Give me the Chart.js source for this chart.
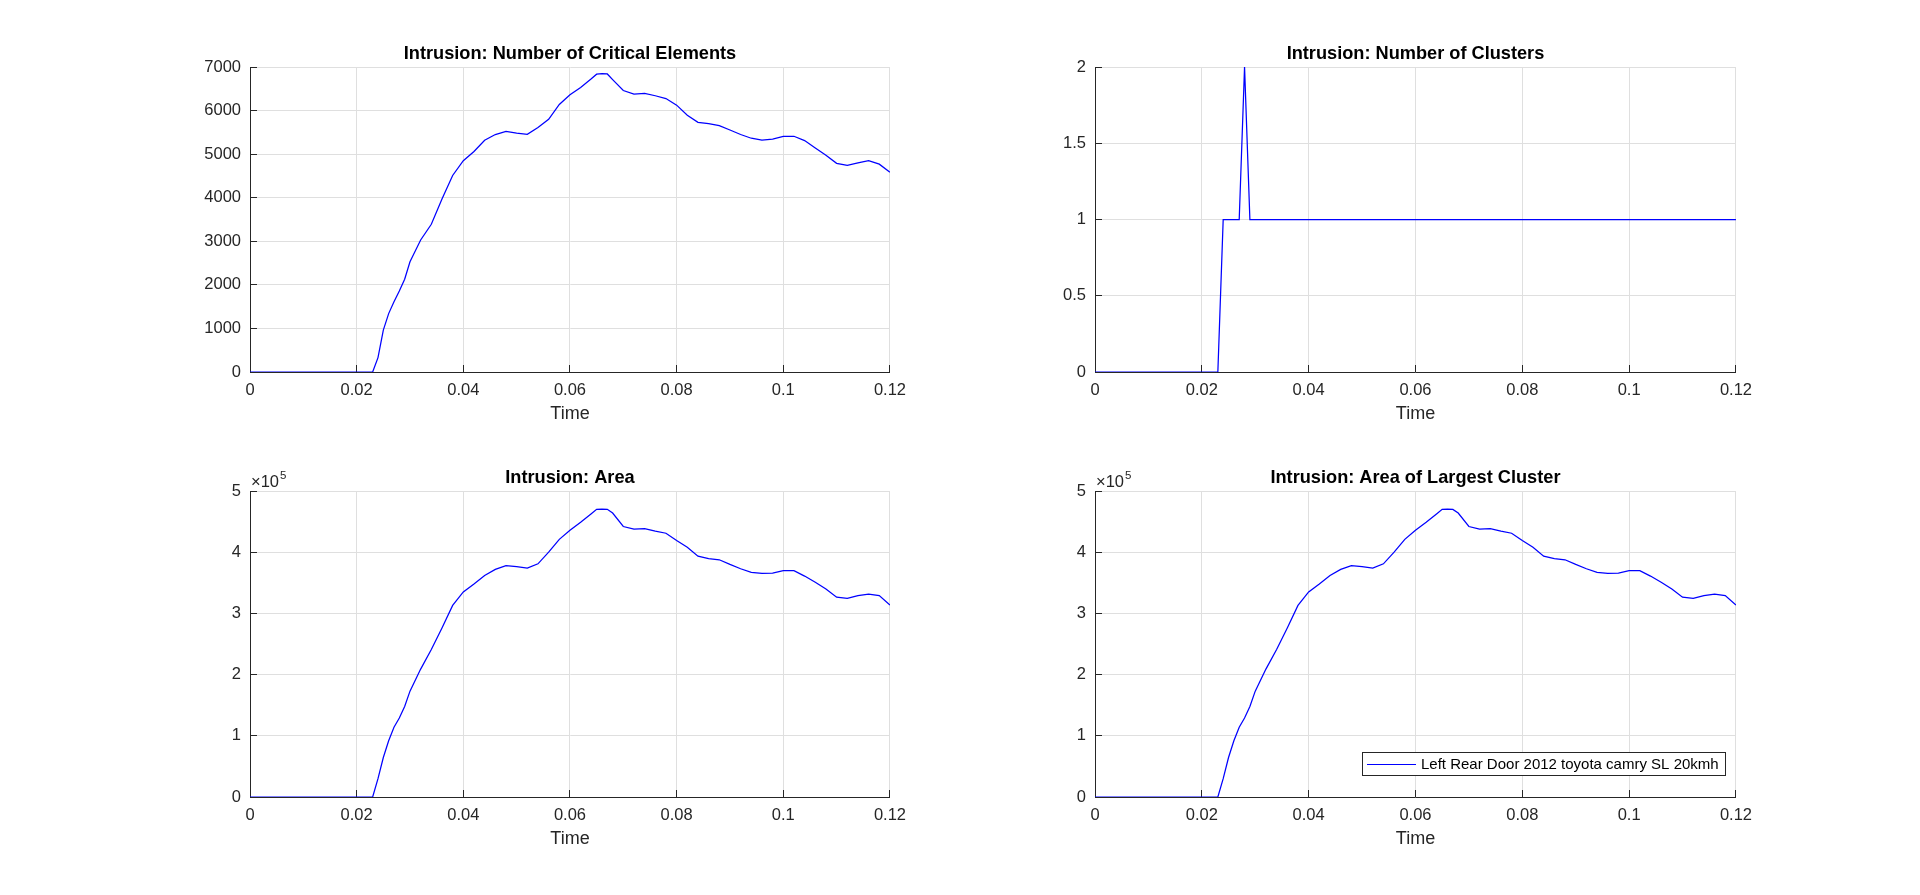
<!DOCTYPE html>
<html>
<head>
<meta charset="utf-8">
<title>Intrusion</title>
<script src="https://cdn.jsdelivr.net/npm/chart.js@4.4.1/dist/chart.umd.min.js"></script>
<style>
  html, body { margin: 0; padding: 0; background: #fff; }
  body { width: 1920px; height: 895px; position: relative; overflow: hidden; }
  .panel { position: absolute; }
</style>
</head>
<body>
<div class="panel" id="p1"><canvas id="c1"></canvas></div>
<div class="panel" id="p2"><canvas id="c2"></canvas></div>
<div class="panel" id="p3"><canvas id="c3"></canvas></div>
<div class="panel" id="p4"><canvas id="c4"></canvas></div>
<script>
// time samples (s)
const times = [0, 0.023, 0.024, 0.025, 0.026, 0.027, 0.028, 0.029, 0.030, 0.032, 0.034, 0.036, 0.038,
  0.040, 0.042, 0.044, 0.046, 0.048, 0.050, 0.052, 0.054, 0.056, 0.058, 0.060, 0.062, 0.064, 0.065,
  0.066, 0.067, 0.068, 0.070, 0.072, 0.074, 0.076, 0.078, 0.080, 0.082, 0.084, 0.086, 0.088, 0.090,
  0.092, 0.094, 0.096, 0.098, 0.100, 0.102, 0.104, 0.106, 0.108, 0.110, 0.112, 0.114, 0.116, 0.118, 0.120];

const criticalElements = [0, 0, 330, 960, 1340, 1610, 1860, 2130, 2530, 3030, 3390, 3970, 4510,
  4850, 5060, 5320, 5450, 5521, 5485, 5455, 5610, 5800, 6140, 6365, 6530, 6730, 6835,
  6848, 6840, 6710, 6460, 6380, 6395, 6340, 6275, 6125, 5895, 5730, 5698, 5655, 5555,
  5450, 5365, 5322, 5345, 5406, 5410, 5312, 5140, 4975, 4790, 4740, 4800, 4852, 4770, 4586];

const area = [0, 0, 30000, 64500, 91900, 114000, 129000, 148000, 173000, 209000, 241000, 276000, 313000,
  335000, 348000, 362000, 372000, 378000, 376500, 374000, 381000, 400000, 421000, 436000, 449000, 463000, 470000,
  470500, 470000, 464000, 442000, 437600, 438500, 434500, 431000, 419000, 408000, 393500, 389600, 387600, 380000,
  373000, 367000, 365400, 366000, 369800, 369800, 361000, 351000, 340000, 326500, 324500, 329000, 331500, 329000, 313500];

const largestClusterArea = [0, 0, 30000, 64500, 91900, 114000, 129000, 148000, 173000, 209000, 241000, 276000, 313000,
  335000, 348000, 362000, 372000, 378000, 376500, 374000, 381000, 400000, 421000, 436000, 449000, 463000, 470000,
  470500, 470000, 464000, 442000, 437600, 438500, 434500, 431000, 419000, 408000, 393500, 389600, 387600, 380000,
  373000, 367000, 365400, 366000, 369800, 369800, 361000, 351000, 340000, 326500, 324500, 329000, 331500, 329000, 313500];

const clusterTimes = [0, 0.023, 0.024, 0.027, 0.028, 0.029, 0.120];
const clusterCounts = [0, 0, 1, 1, 2, 1, 1];

const xTicks = [0, 0.02, 0.04, 0.06, 0.08, 0.1, 0.12];
const elementTicks = [0, 1000, 2000, 3000, 4000, 5000, 6000, 7000];
const clusterTicks = [0, 0.5, 1, 1.5, 2];
const areaTicks = [0, 100000, 200000, 300000, 400000, 500000];

const seriesLabel = 'Left Rear Door 2012 toyota camry SL 20kmh';

const FONT = "'Liberation Sans', Arial, Helvetica, sans-serif";
const AX_COLOR = '#262626';
const GRID_COLOR = '#dfdfdf';

// space around each axes box inside its canvas
const PAD_L = 90, PAD_T = 40, PAD_R = 30, PAD_B = 60;

// axes boxes in page pixels (matlab 2x2 subplot layout)
const boxes = {
  p1: { left: 250, top: 67, width: 642, height: 305 },
  p2: { left: 1095, top: 67, width: 643, height: 305 },
  p3: { left: 250, top: 491, width: 642, height: 306 },
  p4: { left: 1095, top: 491, width: 643, height: 306 }
};

Object.keys(boxes).forEach(id => {
  const b = boxes[id];
  const el = document.getElementById(id);
  el.style.left = (b.left - PAD_L) + 'px';
  el.style.top = (b.top - PAD_T) + 'px';
  el.style.width = (b.width + PAD_L + PAD_R) + 'px';
  el.style.height = (b.height + PAD_T + PAD_B) + 'px';
});

function fmt(v) {
  return String(+Number(v).toFixed(4));
}

// title, x10^n label and legend drawn like the matlab figure
const matlabDecor = {
  id: 'matlabDecor',
  afterDraw(chart, args, opts) {
    const ctx = chart.ctx;
    const a = chart.chartArea;
    ctx.save();
    if (opts.title) {
      ctx.font = 'bold 18.2px ' + FONT;
      ctx.fillStyle = '#000';
      ctx.textAlign = 'center';
      ctx.textBaseline = 'alphabetic';
      ctx.fillText(opts.title, (a.left + a.right) / 2, a.top - 8);
    }
    if (opts.exponent) {
      ctx.font = '16.5px ' + FONT;
      ctx.fillStyle = AX_COLOR;
      ctx.textAlign = 'left';
      ctx.textBaseline = 'alphabetic';
      ctx.fillText('\u00d710', a.left + 1, a.top - 4);
      const w = ctx.measureText('\u00d710').width;
      ctx.font = '11.5px ' + FONT;
      ctx.fillText(String(opts.exponent), a.left + 2 + w, a.top - 12);
    }
    if (opts.legend) {
      const ds = chart.data.datasets[0];
      ctx.font = '15px ' + FONT;
      const tw = ctx.measureText(ds.label).width;
      const h = 23, lineLen = 49;
      const boxW = Math.round(5 + lineLen + 5 + tw + 6);
      const right = Math.round(a.right - 11);
      const bottom = Math.round(a.bottom - 22);
      const left = right - boxW, top = bottom - h;
      ctx.fillStyle = '#fff';
      ctx.fillRect(left, top, boxW, h);
      ctx.strokeStyle = AX_COLOR;
      ctx.lineWidth = 1;
      ctx.strokeRect(left + 0.5, top + 0.5, boxW, h);
      const cy = top + h / 2;
      ctx.strokeStyle = ds.borderColor;
      ctx.lineWidth = 1.2;
      ctx.beginPath();
      ctx.moveTo(left + 5, Math.round(cy) + 0.5);
      ctx.lineTo(left + 5 + lineLen, Math.round(cy) + 0.5);
      ctx.stroke();
      ctx.fillStyle = '#000';
      ctx.textAlign = 'left';
      ctx.textBaseline = 'middle';
      ctx.fillText(ds.label, left + 5 + lineLen + 5, cy + 1);
    }
    ctx.restore();
  }
};

function makeChart(canvasId, xs, ys, yTicks, yMin, yMax, yLabel, decor) {
  const ctx = document.getElementById(canvasId).getContext('2d');
  const tickFont = { family: FONT, size: 16.5 };
  return new Chart(ctx, {
    type: 'line',
    data: {
      datasets: [{
        label: seriesLabel,
        data: xs.map((t, i) => ({ x: t, y: ys[i] })),
        borderColor: '#0000ff',
        borderWidth: 1.25,
        pointRadius: 0,
        tension: 0,
        fill: false
      }]
    },
    options: {
      responsive: true,
      maintainAspectRatio: false,
      animation: false,
      events: [],
      layout: { padding: { left: 0, top: PAD_T, right: PAD_R, bottom: 0 } },
      plugins: {
        legend: { display: false },
        title: { display: false },
        tooltip: { enabled: false },
        matlabDecor: decor
      },
      scales: {
        x: {
          type: 'linear',
          min: 0,
          max: 0.12,
          afterBuildTicks: s => { s.ticks = xTicks.map(v => ({ value: v })); },
          afterFit: s => { s.height = PAD_B; },
          grid: { color: GRID_COLOR, lineWidth: 1, tickLength: -7, tickColor: AX_COLOR, z: -1 },
          border: { display: true, color: AX_COLOR, width: 1 },
          ticks: { color: AX_COLOR, font: tickFont, padding: 16, maxRotation: 0, autoSkip: false, callback: v => fmt(v) },
          title: { display: true, text: 'Time', color: AX_COLOR, font: { family: FONT, size: 18 }, padding: { top: 0, bottom: 7 } }
        },
        y: {
          type: 'linear',
          min: yMin,
          max: yMax,
          afterBuildTicks: s => { s.ticks = yTicks.map(v => ({ value: v })); },
          afterFit: s => { s.width = PAD_L; },
          grid: { color: GRID_COLOR, lineWidth: 1, tickLength: -7, tickColor: AX_COLOR, z: -1 },
          border: { display: true, color: AX_COLOR, width: 1 },
          ticks: { color: AX_COLOR, font: tickFont, padding: 16, autoSkip: false, callback: yLabel }
        }
      }
    },
    plugins: [matlabDecor]
  });
}

makeChart('c1', times, criticalElements, elementTicks, 0, 7000, v => fmt(v),
  { title: 'Intrusion: Number of Critical Elements' });
makeChart('c2', clusterTimes, clusterCounts, clusterTicks, 0, 2, v => fmt(v),
  { title: 'Intrusion: Number of Clusters' });
makeChart('c3', times, area, areaTicks, 0, 500000, v => fmt(v / 100000),
  { title: 'Intrusion: Area', exponent: 5 });
makeChart('c4', times, largestClusterArea, areaTicks, 0, 500000, v => fmt(v / 100000),
  { title: 'Intrusion: Area of Largest Cluster', exponent: 5, legend: true });
</script>
</body>
</html>
